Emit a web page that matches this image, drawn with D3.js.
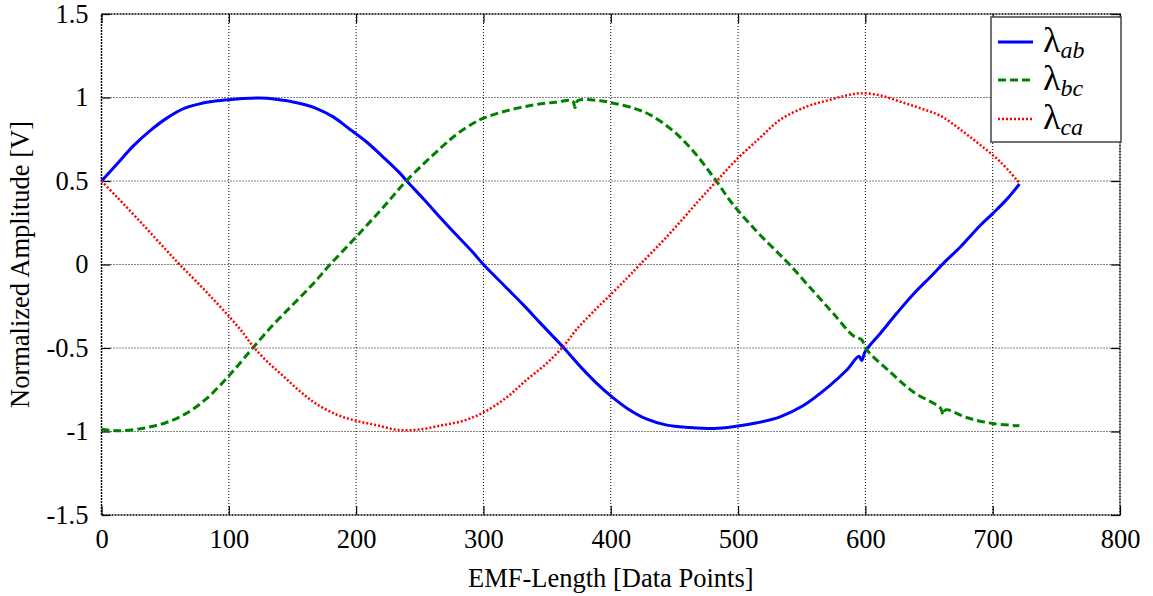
<!DOCTYPE html>
<html>
<head>
<meta charset="utf-8">
<script src="https://cdn.jsdelivr.net/npm/d3@7"></script>
<style>
  body { margin: 0; background: #fff; }
</style>
</head>
<body>
<svg id="chart" width="1153" height="596"></svg>
<script>
// values: [data point, amplitude]
const abData = [[0,0.50],[12,0.60],[25,0.71],[38,0.80],[51,0.875],[64,0.932],[77,0.962],[91,0.98],[104,0.99],
  [117,0.996],[130,0.996],[143,0.983],[156,0.964],[169,0.934],[182,0.884],[195,0.81],[208,0.735],[221,0.645],
  [234,0.55],[240,0.498],[253,0.392],[266,0.282],[279,0.175],[292,0.07],[300,0.0],[318,-0.139],[331,-0.239],
  [344,-0.345],[363,-0.498],[376,-0.61],[389,-0.712],[400,-0.787],[413,-0.862],[428,-0.925],[444,-0.962],
  [462,-0.976],[481,-0.982],[496,-0.972],[515,-0.948],[533,-0.912],[551,-0.846],[572,-0.725],[585,-0.635],
  [595,-0.55],[597,-0.575],[600,-0.52],[612,-0.41],[625,-0.289],[638,-0.175],[651,-0.075],[663,0.02],[674,0.10],
  [690,0.232],[700,0.305],[711,0.39],[721,0.482]];
const bcData = [[0,-0.986],[14,-0.996],[33,-0.98],[51,-0.946],[67,-0.89],[83,-0.8],[96,-0.7],[106,-0.615],
  [119,-0.498],[135,-0.36],[151,-0.235],[167,-0.109],[179,-0.005],[200,0.165],[221,0.34],[240,0.505],[266,0.695],
  [279,0.78],[292,0.846],[300,0.876],[318,0.92],[339,0.955],[357,0.972],[370,0.98],[372,0.94],[374,0.98],[392,0.98],[402,0.966],
  [418,0.936],[431,0.896],[449,0.8],[465,0.677],[481,0.52],[496,0.36],[515,0.195],[530,0.08],[541,-0.005],
  [559,-0.159],[575,-0.295],[591,-0.43],[597,-0.45],[601,-0.51],[619,-0.64],[638,-0.765],[659,-0.86],[661,-0.9],
  [663,-0.87],[680,-0.918],[700,-0.952],[721,-0.966]];
const caData = [[0,0.50],[12,0.405],[33,0.235],[51,0.085],[62,-0.005],[75,-0.105],[88,-0.21],[101,-0.318],[111,-0.408],
  [119,-0.49],[130,-0.58],[143,-0.67],[156,-0.76],[169,-0.836],[185,-0.9],[200,-0.936],[216,-0.962],
  [232,-0.99],[248,-0.99],[266,-0.965],[284,-0.936],[300,-0.886],[318,-0.797],[334,-0.69],[350,-0.59],
  [363,-0.488],[373,-0.39],[386,-0.285],[400,-0.18],[413,-0.08],[423,0.0],[439,0.125],[455,0.259],[470,0.39],
  [483,0.498],[499,0.63],[517,0.757],[533,0.866],[554,0.946],[572,0.986],[585,1.012],[596,1.026],[612,1.012],
  [627,0.976],[643,0.936],[659,0.89],[675,0.806],[690,0.717],[706,0.615],[721,0.488]];

const xTicks = [0, 100, 200, 300, 400, 500, 600, 700, 800];
const yTicks = [-1.5, -1, -0.5, 0, 0.5, 1, 1.5];
const seriesNames = ["ab", "bc", "ca"];

const serif = "'Liberation Serif', 'DejaVu Serif', serif";
const svg = d3.select("#chart").attr("font-family", serif);
const pLeft = 101.5, pRight = 1120, pTop = 14, pBottom = 515;
const fs = 26.5;

const x = d3.scaleLinear().domain([0, 800]).range([pLeft, pRight]);
const y = d3.scaleLinear().domain([-1.5, 1.5]).range([pBottom, pTop]);

// grid
const grid = svg.append("g");
grid.selectAll(".gx").data(xTicks.slice(1, -1)).enter().append("line")
  .attr("x1", d => x(d)).attr("x2", d => x(d)).attr("y1", pTop).attr("y2", pBottom)
  .attr("stroke", "#000").attr("stroke-width", 1).attr("stroke-dasharray", "1,2");
grid.selectAll(".gy").data(yTicks.slice(1, -1)).enter().append("line")
  .attr("x1", pLeft).attr("x2", pRight).attr("y1", d => y(d)).attr("y2", d => y(d))
  .attr("stroke", "#000").attr("stroke-width", 1).attr("stroke-dasharray", "1,2");

// frame
svg.append("rect").attr("x", pLeft).attr("y", pTop).attr("width", pRight - pLeft).attr("height", pBottom - pTop)
  .attr("fill", "none").attr("stroke", "#000").attr("stroke-width", 1.5).attr("stroke-dasharray", "2,1");

// axes with inward ticks
const xAxis = svg.append("g").attr("transform", `translate(0,${pBottom})`)
  .call(d3.axisBottom(x).tickValues(xTicks).tickSizeInner(-9).tickSizeOuter(0).tickPadding(14));
const yAxis = svg.append("g").attr("transform", `translate(${pLeft},0)`)
  .call(d3.axisLeft(y).tickValues(yTicks).tickSizeInner(-9).tickSizeOuter(0).tickPadding(13)
    .tickFormat(d => String(d)));
svg.append("g").attr("transform", `translate(0,${pTop})`)
  .call(d3.axisTop(x).tickValues(xTicks).tickSizeInner(-9).tickSizeOuter(0).tickFormat(""));
svg.append("g").attr("transform", `translate(${pRight},0)`)
  .call(d3.axisRight(y).tickValues(yTicks).tickSizeInner(-9).tickSizeOuter(0).tickFormat(""));
svg.selectAll(".domain").remove();
svg.selectAll(".tick line").attr("stroke", "#000").attr("stroke-width", 1.2);
[xAxis, yAxis].forEach(a => a.attr("font-family", serif).attr("font-size", fs)
  .selectAll("text").attr("fill", "#000"));

// axis titles
svg.append("text").attr("x", (pLeft + pRight) / 2).attr("y", 587).attr("text-anchor", "middle")
  .attr("font-size", fs).text("EMF-Length [Data Points]");
svg.append("text").attr("transform", `translate(29,${(pTop + pBottom) / 2}) rotate(-90)`)
  .attr("text-anchor", "middle").attr("font-size", fs).text("Normalized Amplitude [V]");

// curves
const line = d3.line().x(d => x(d[0])).y(d => y(d[1])).curve(d3.curveCatmullRom.alpha(0.5));
const styles = [
  {data: abData, color: "#0000ff", width: 3, dash: null},
  {data: bcData, color: "#008000", width: 3, dash: "8,4"},
  {data: caData, color: "#ff0000", width: 2.5, dash: "2,2"}
];
styles.forEach(s => {
  svg.append("path").datum(s.data).attr("d", line).attr("fill", "none")
    .attr("stroke", s.color).attr("stroke-width", s.width)
    .attr("stroke-dasharray", s.dash);
});

// legend
const lg = svg.append("g");
lg.append("rect").attr("x", 991).attr("y", 17).attr("width", 130).attr("height", 125)
  .attr("fill", "#fff").attr("stroke", "#444").attr("stroke-width", 1.5);
const rowY = [42, 80, 119];
styles.forEach((s, i) => {
  lg.append("line").attr("x1", 998).attr("x2", 1033).attr("y1", rowY[i]).attr("y2", rowY[i])
    .attr("stroke", s.color).attr("stroke-width", s.width).attr("stroke-dasharray", s.dash);
  const t = lg.append("text").attr("x", 1043).attr("y", rowY[i] + 10).attr("font-size", 36);
  t.append("tspan").text("λ");
  t.append("tspan").attr("dy", 6).attr("font-size", 24).attr("font-style", "italic").text(seriesNames[i]);
});
</script>
</body>
</html>
